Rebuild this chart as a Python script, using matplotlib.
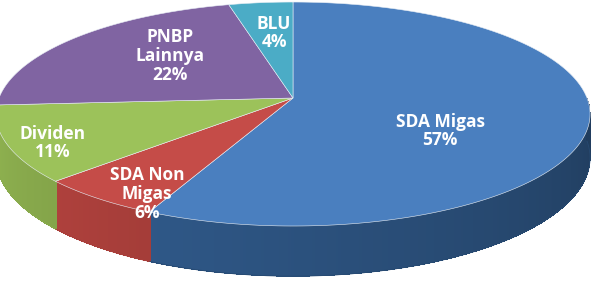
import numpy as np
import matplotlib.pyplot as plt
from matplotlib.colors import to_rgb
from matplotlib.patches import Polygon

# slices, clockwise from 12 o'clock
labels = ['SDA Migas', 'SDA Non\nMigas', 'Dividen', 'PNBP\nLainnya', 'BLU']
shares = [57, 6, 11, 22, 4]
top_colors = ['#4a7fbf', '#c54c48', '#9cc25a', '#8064a2', '#4bacc6']
side_colors = ['#37679f', '#c24843', '#93b752', '#7a5c9c', '#3f97ae']
label_pos = [(440, 131), (147, 194), (53, 143), (170, 56), (274, 33)]

W, H = 593, 284
cx, cy = 293, 98          # pie centre on screen
sx, sy, k = 294, 109.7, 0.143  # radius, tilt, perspective
depth = 43


def proj(u, v):
    d = 1 + k * v
    return cx + sx * u / d, cy - sy * v / d


def rim(t):
    t = np.radians(t)
    return proj(np.cos(t), np.sin(t))


fig = plt.figure(figsize=(W / 100, H / 100), dpi=100)
ax = fig.add_axes([0, 0, 1, 1])
ax.set_xlim(0, W)
ax.set_ylim(H, 0)
ax.axis('off')

bounds = 90 - 3.6 * np.concatenate([[0], np.cumsum(shares)])

# front walls, shaded darker towards the right
for i in range(len(shares)):
    lo, hi = max(bounds[i + 1], -180), min(bounds[i], 0)
    if hi <= lo:
        continue
    edges = np.linspace(lo, hi, int((hi - lo) * 2) + 2)
    for a0, a1 in zip(edges[:-1], edges[1:]):
        ts = np.linspace(a0, a1 + 0.3, 3)
        x, y = rim(ts)
        dd = depth / (1 + k * np.sin(np.radians(ts)))
        xs = np.concatenate([x, x[::-1]])
        ys = np.concatenate([y, (y + dd)[::-1]])
        f = 1 - 0.42 * ((a0 + a1) / 2 + 180) / 180
        c = np.clip(np.array(to_rgb(side_colors[i])) * f, 0, 1)
        ax.add_patch(Polygon(np.c_[xs, ys], closed=True, fc=c, ec='none',
                             antialiased=False))
    # smooth outline of the wall
    ts = np.linspace(lo, hi, 200)
    x, y = rim(ts)
    dd = depth / (1 + k * np.sin(np.radians(ts)))
    f = 1 - 0.42 * (ts[::-1] + 180) / 180
    ax.plot(x, y + dd, color=np.array(to_rgb(side_colors[i])) * f.mean(), lw=0.6)

# top faces
for i in range(len(shares)):
    ts = np.linspace(bounds[i], bounds[i + 1], 200)
    x, y = rim(ts)
    xs = np.concatenate([[cx], x])
    ys = np.concatenate([[cy], y])
    ax.add_patch(Polygon(np.c_[xs, ys], closed=True, fc=top_colors[i],
                         ec='#e8eef5', lw=0.4))

for lab, s, (lx, ly) in zip(labels, shares, label_pos):
    ax.text(lx, ly, f'{lab}\n{s}%', ha='center', va='center', color='white',
            fontsize=12.5, fontweight='bold', family='Open Sans',
            linespacing=1.05)

fig.savefig('out.png', dpi=100)
